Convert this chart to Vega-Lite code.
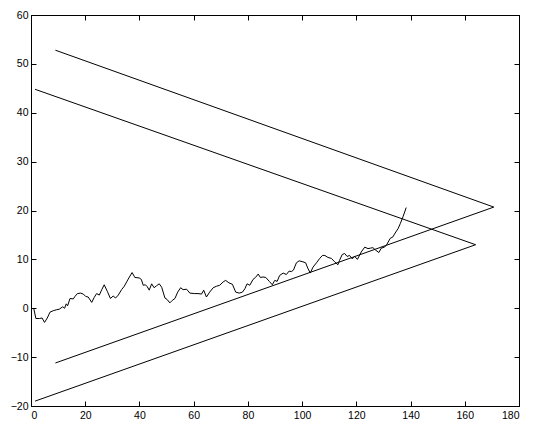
{
  "$schema": "https://vega.github.io/schema/vega-lite/v6.json",
  "width": 488,
  "height": 391,
  "autosize": {"type": "none"},
  "padding": {"left": 31, "top": 15, "right": 14, "bottom": 15},
  "background": "white",
  "config": {
    "view": {"stroke": "black", "strokeWidth": 1},
    "axis": {
      "domainColor": "black",
      "domainWidth": 1,
      "tickColor": "black",
      "tickWidth": 1,
      "grid": false,
      "title": null,
      "labelFont": "Liberation Sans",
      "labelFontSize": 10.5,
      "labelColor": "black"
    }
  },
  "datasets": {
    "walk": [
      {"x": 1, "y": 0}, {"x": 1.8, "y": -2.1}, {"x": 3.1, "y": -2.1}, {"x": 4.1, "y": -2.0},
      {"x": 5.0, "y": -2.9}, {"x": 6.0, "y": -2.0}, {"x": 7.0, "y": -0.8}, {"x": 8.2, "y": -0.5},
      {"x": 9.5, "y": -0.3}, {"x": 10.4, "y": -0.2}, {"x": 11.7, "y": 0.3}, {"x": 12.4, "y": 0.0},
      {"x": 13.0, "y": 0.9}, {"x": 13.5, "y": 0.5}, {"x": 14.4, "y": 2.0}, {"x": 15.6, "y": 1.9},
      {"x": 16.2, "y": 2.4}, {"x": 17.1, "y": 3.0}, {"x": 18.3, "y": 3.1}, {"x": 19.3, "y": 2.9},
      {"x": 20.2, "y": 2.4}, {"x": 21.1, "y": 2.3}, {"x": 22.4, "y": 1.2}, {"x": 23.3, "y": 2.2},
      {"x": 24.2, "y": 3.0}, {"x": 25.2, "y": 2.7}, {"x": 26.1, "y": 3.8}, {"x": 27.0, "y": 4.8},
      {"x": 28.2, "y": 3.4}, {"x": 29.3, "y": 2.0}, {"x": 30.3, "y": 2.5}, {"x": 31.2, "y": 2.1},
      {"x": 32.2, "y": 2.7}, {"x": 33.4, "y": 3.8}, {"x": 34.4, "y": 4.5}, {"x": 35.3, "y": 5.4},
      {"x": 36.3, "y": 6.4}, {"x": 37.3, "y": 7.3}, {"x": 38.3, "y": 6.3}, {"x": 39.9, "y": 6.2},
      {"x": 40.7, "y": 5.9}, {"x": 41.4, "y": 4.7}, {"x": 42.2, "y": 4.8}, {"x": 42.9, "y": 4.4},
      {"x": 43.6, "y": 3.7}, {"x": 44.5, "y": 5.0}, {"x": 45.4, "y": 4.2}, {"x": 46.3, "y": 4.6},
      {"x": 47.3, "y": 5.0}, {"x": 48.2, "y": 4.3}, {"x": 49.4, "y": 2.1}, {"x": 50.2, "y": 1.8},
      {"x": 51.2, "y": 1.1}, {"x": 52.1, "y": 1.6}, {"x": 53.1, "y": 2.0}, {"x": 54.1, "y": 3.3},
      {"x": 55.2, "y": 4.2}, {"x": 56.1, "y": 3.8}, {"x": 57.4, "y": 3.9}, {"x": 58.6, "y": 3.1},
      {"x": 60.4, "y": 3.0}, {"x": 61.6, "y": 3.0}, {"x": 62.9, "y": 2.9}, {"x": 63.7, "y": 3.7},
      {"x": 64.7, "y": 2.3}, {"x": 65.9, "y": 3.3}, {"x": 67.2, "y": 4.2}, {"x": 68.4, "y": 4.5},
      {"x": 69.6, "y": 4.7}, {"x": 70.9, "y": 5.4}, {"x": 71.8, "y": 5.7}, {"x": 73.0, "y": 5.2},
      {"x": 74.3, "y": 4.9}, {"x": 75.5, "y": 3.3}, {"x": 76.8, "y": 3.1}, {"x": 78.0, "y": 3.3},
      {"x": 78.9, "y": 4.0}, {"x": 79.7, "y": 5.0}, {"x": 80.7, "y": 4.7}, {"x": 81.9, "y": 5.9},
      {"x": 82.8, "y": 6.3}, {"x": 83.8, "y": 7.0}, {"x": 84.6, "y": 6.3}, {"x": 85.6, "y": 6.4},
      {"x": 86.6, "y": 6.3}, {"x": 87.9, "y": 5.5}, {"x": 89.0, "y": 4.8}, {"x": 89.9, "y": 5.7},
      {"x": 90.8, "y": 5.5}, {"x": 91.7, "y": 6.7}, {"x": 93.0, "y": 7.2}, {"x": 94.2, "y": 6.9},
      {"x": 95.2, "y": 7.6}, {"x": 96.0, "y": 7.5}, {"x": 96.8, "y": 7.8}, {"x": 97.9, "y": 9.3},
      {"x": 98.9, "y": 9.7}, {"x": 100.3, "y": 9.5}, {"x": 101.3, "y": 9.3}, {"x": 102.1, "y": 8.2},
      {"x": 103.0, "y": 7.2}, {"x": 104.0, "y": 8.4}, {"x": 105.3, "y": 9.3}, {"x": 106.5, "y": 10.2},
      {"x": 107.5, "y": 10.8}, {"x": 108.4, "y": 10.8}, {"x": 109.5, "y": 10.4}, {"x": 110.8, "y": 10.2},
      {"x": 112.0, "y": 9.5}, {"x": 113.2, "y": 8.9}, {"x": 113.8, "y": 9.8}, {"x": 114.8, "y": 11.0},
      {"x": 115.7, "y": 11.2}, {"x": 116.6, "y": 10.6}, {"x": 117.5, "y": 10.8}, {"x": 118.5, "y": 10.1},
      {"x": 119.4, "y": 10.6}, {"x": 120.4, "y": 10.0}, {"x": 121.8, "y": 11.5}, {"x": 123.1, "y": 12.5},
      {"x": 124.3, "y": 12.2}, {"x": 125.2, "y": 12.3}, {"x": 126.1, "y": 12.4}, {"x": 127.1, "y": 11.9},
      {"x": 128.3, "y": 11.4}, {"x": 129.2, "y": 12.3}, {"x": 130.4, "y": 12.5}, {"x": 131.3, "y": 13.1},
      {"x": 132.5, "y": 14.3}, {"x": 133.5, "y": 14.6}, {"x": 134.1, "y": 15.2}, {"x": 135.4, "y": 16.3},
      {"x": 136.2, "y": 17.3}, {"x": 137.2, "y": 18.7}, {"x": 138.4, "y": 20.6}
    ],
    "wedges": [
      {"wedge": "outer", "i": 0, "x": 9.0, "y": 52.8},
      {"wedge": "outer", "i": 1, "x": 170.7, "y": 20.7},
      {"wedge": "outer", "i": 2, "x": 9.0, "y": -11.2},
      {"wedge": "inner", "i": 0, "x": 1.5, "y": 44.8},
      {"wedge": "inner", "i": 1, "x": 164.0, "y": 13.0},
      {"wedge": "inner", "i": 2, "x": 1.5, "y": -19.0}
    ]
  },
  "layer": [
    {
      "data": {"name": "wedges"},
      "mark": {"type": "line", "color": "black", "strokeWidth": 1},
      "encoding": {
        "x": {
          "field": "x", "type": "quantitative",
          "scale": {"domain": [0, 180], "nice": false, "zero": false},
          "axis": {"orient": "bottom", "values": [0, 20, 40, 60, 80, 100, 120, 140, 160, 180], "tickSize": -5, "labelPadding": 9}
        },
        "y": {
          "field": "y", "type": "quantitative",
          "scale": {"domain": [-20, 60], "nice": false, "zero": false},
          "axis": {"orient": "left", "values": [-20, -10, 0, 10, 20, 30, 40, 50, 60], "tickSize": -5, "labelPadding": 8}
        },
        "detail": {"field": "wedge"},
        "order": {"field": "i"}
      }
    },
    {
      "data": {"name": "walk"},
      "mark": {"type": "line", "color": "black", "strokeWidth": 1},
      "encoding": {
        "x": {
          "field": "x", "type": "quantitative",
          "scale": {"domain": [0, 180], "nice": false, "zero": false},
          "axis": {"orient": "top", "values": [0, 20, 40, 60, 80, 100, 120, 140, 160, 180], "tickSize": -5, "labels": false}
        },
        "y": {
          "field": "y", "type": "quantitative",
          "scale": {"domain": [-20, 60], "nice": false, "zero": false},
          "axis": {"orient": "right", "values": [-20, -10, 0, 10, 20, 30, 40, 50, 60], "tickSize": -5, "labels": false}
        }
      }
    }
  ],
  "resolve": {"axis": {"x": "independent", "y": "independent"}}
}
